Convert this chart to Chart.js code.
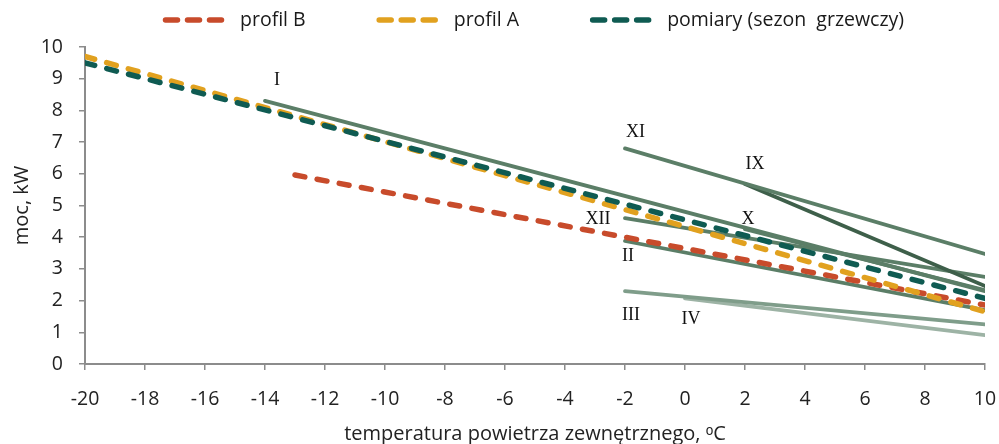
<!DOCTYPE html>
<html lang="pl">
<head>
<meta charset="utf-8">
<title>Moc a temperatura powietrza zewnętrznego</title>
<script src="https://cdn.jsdelivr.net/npm/chart.js@4.4.1/dist/chart.umd.min.js"></script>
<style>
  html, body { margin: 0; padding: 0; background: #fff; }
  #wrap { width: 999px; height: 444px; }
</style>
</head>
<body>
<div id="wrap"><canvas id="mocChart" width="999" height="444"></canvas></div>
<script>
// końce prostych: temperatura [°C] -> moc [kW]
const profilB_t = [-13, 10];
const profilB_moc = [5.96, 1.86];
const profilA_t = [-20, 10];
const profilA_moc = [9.7, 1.65];
const pomiary_t = [-20, 10];
const pomiary_moc = [9.5, 2.07];

// proste dla poszczególnych miesięcy
const miesiace = ['I', 'XI', 'IX', 'XII', 'X', 'II', 'III', 'IV'];
const miesiaceT = [[-14, 10], [-2, 10], [2, 10], [-2, 10], [2, 10], [-2, 10], [-2, 10], [0, 10]];
const miesiaceMoc = [[8.3, 2.3], [6.8, 3.47], [5.68, 2.46], [4.6, 2.75], [4.25, 2.33], [3.88, 1.7], [2.3, 1.25], [2.07, 0.91]];

// gdzie stoją podpisy miesięcy (w jednostkach osi)
const podpisT = [-13.6, -1.65, 2.33, -2.9, 2.1, -1.9, -1.8, 0.2];
const podpisMoc = [8.95, 7.3, 6.29, 4.55, 4.55, 3.4, 1.55, 1.4];

// podziałki osi
const tickiT = [-20, -18, -16, -14, -12, -10, -8, -6, -4, -2, 0, 2, 4, 6, 8, 10];
const tickiMoc = [0, 1, 2, 3, 4, 5, 6, 7, 8, 9, 10];

const kolorMiesiaca = {
    'IX': '#3e5f4a',
    'III': '#7f9d8a',
    'IV': '#9db3a5'
};
const kolorProstej = '#5b7e67';

const punkty = (t, moc) => t.map((v, i) => ({ x: v, y: moc[i] }));

function przerywana(label, t, moc, kolor) {
    return {
        label: label,
        data: punkty(t, moc),
        borderColor: kolor,
        backgroundColor: kolor,
        borderWidth: 5.5,
        borderDash: [10, 12.5],
        borderCapStyle: 'round',
        pointRadius: 0,
        tension: 0
    };
}

const datasets = [
    przerywana('pomiary (sezon  grzewczy)', pomiary_t, pomiary_moc, '#0f5b52'),
    przerywana('profil A', profilA_t, profilA_moc, '#e1a11f'),
    przerywana('profil B', profilB_t, profilB_moc, '#c84b2b')
];
miesiace.forEach((m, i) => {
    datasets.push({
        label: m,
        data: punkty(miesiaceT[i], miesiaceMoc[i]),
        borderColor: kolorMiesiaca[m] || kolorProstej,
        borderWidth: 3.8,
        borderCapStyle: 'round',
        pointRadius: 0,
        tension: 0
    });
});

// legenda w jednym wierszu nad wykresem
const legendaWiersz = {
    id: 'legendaWiersz',
    afterDraw(chart, args, opts) {
        const ctx = chart.ctx;
        let x = opts.x;
        ctx.save();
        ctx.font = opts.font;
        ctx.textBaseline = 'middle';
        ctx.textAlign = 'left';
        opts.elementy.forEach(i => {
            const ds = chart.data.datasets[i];
            ctx.strokeStyle = ds.borderColor;
            ctx.lineWidth = ds.borderWidth;
            ctx.lineCap = 'round';
            ctx.setLineDash(opts.kreska);
            ctx.beginPath();
            ctx.moveTo(x + 2.5, opts.y);
            ctx.lineTo(x + opts.probka - 2.5, opts.y);
            ctx.stroke();
            ctx.setLineDash([]);
            ctx.fillStyle = '#1a1a1a';
            const tx = x + opts.probka + opts.odstep;
            ctx.fillText(ds.label, tx, opts.y);
            x = tx + ctx.measureText(ds.label).width + opts.przerwa;
        });
        ctx.restore();
    }
};

// rzymskie podpisy przy prostych
const podpisy = {
    id: 'podpisy',
    afterDatasetsDraw(chart, args, opts) {
        const ctx = chart.ctx;
        const sx = chart.scales.x, sy = chart.scales.y;
        ctx.save();
        ctx.font = opts.font;
        ctx.fillStyle = '#111';
        ctx.textAlign = 'center';
        ctx.textBaseline = 'middle';
        miesiace.forEach((m, i) => {
            ctx.fillText(m, sx.getPixelForValue(podpisT[i]), sy.getPixelForValue(podpisMoc[i]));
        });
        ctx.restore();
    }
};

const osKolor = '#8c8c8c';
const fontOsi = { family: '"Open Sans", sans-serif', size: 19.5 };

// stały obszar wykresu: bez dodatkowych marginesów od etykiet
function bezMarginesow(s) {
    s.paddingLeft = 0;
    s.paddingRight = 0;
    s.paddingTop = 0;
    s.paddingBottom = 0;
}

new Chart(document.getElementById('mocChart'), {
    type: 'line',
    data: { datasets: datasets },
    options: {
        responsive: false,
        animation: false,
        layout: { autoPadding: false, padding: { top: 47, right: 14, left: 0, bottom: 0 } },
        plugins: {
            legend: { display: false },
            tooltip: { enabled: false },
            legendaWiersz: {
                x: 163, y: 20, probka: 63, odstep: 14, przerwa: 71,
                kreska: [12, 10],
                elementy: [2, 1, 0],
                font: '19.5px "Open Sans", sans-serif'
            },
            podpisy: { font: '18px "Liberation Serif", serif' }
        },
        scales: {
            x: {
                type: 'linear',
                min: -20,
                max: 10,
                afterBuildTicks: s => { s.ticks = tickiT.map(v => ({ value: v })); },
                afterFit: s => { s.height = 80; bezMarginesow(s); },
                grid: { display: true, drawOnChartArea: false, drawTicks: true, tickLength: 6, color: osKolor, lineWidth: 1.5 },
                border: { color: osKolor, width: 2 },
                ticks: { color: '#222', font: fontOsi, padding: 18, maxRotation: 0 },
                title: {
                    display: true,
                    text: 'temperatura powietrza zewnętrznego, ᵒC',
                    color: '#222',
                    font: { family: '"Open Sans", sans-serif', size: 20 },
                    padding: { top: 0, bottom: -2 }
                }
            },
            y: {
                min: 0,
                max: 10,
                afterBuildTicks: s => { s.ticks = tickiMoc.map(v => ({ value: v })); },
                afterFit: s => { s.width = 85; bezMarginesow(s); },
                grid: { display: true, drawOnChartArea: false, drawTicks: true, tickLength: 6, color: osKolor, lineWidth: 1.5 },
                border: { color: osKolor, width: 2 },
                ticks: { color: '#222', font: fontOsi, padding: 16 },
                title: {
                    display: true,
                    text: 'moc, kW',
                    color: '#222',
                    font: { family: '"Open Sans", sans-serif', size: 20 },
                    padding: { top: 10, bottom: 0 }
                }
            }
        }
    },
    plugins: [legendaWiersz, podpisy]
});
</script>
</body>
</html>
